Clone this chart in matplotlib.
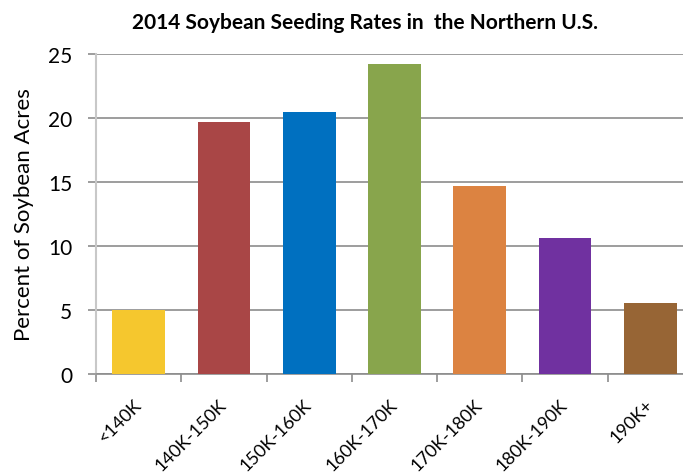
import matplotlib
matplotlib.use("Agg")
import matplotlib.pyplot as plt
import numpy as np

# data
categories = ["<140K", "140K-150K", "150K-160K", "160K-170K", "170K-180K", "180K-190K", "190K+"]
percent = [5.0, 19.7, 20.5, 24.2, 14.7, 10.6, 5.5]
colors = ["#F5C72E", "#A94646", "#0070C0", "#88A54C", "#DC8341", "#7031A0", "#976535"]
yticks = [0, 5, 10, 15, 20, 25]

plt.rcParams["font.family"] = ["Lato", "DejaVu Sans"]

fig = plt.figure(figsize=(6.83, 4.77), dpi=100)
# axes runs a little past the right edge, as in the original
ax = fig.add_axes([0.1406, 0.2145, 0.874, 0.670])

x = np.arange(len(categories))
ax.bar(x, percent, width=0.62, color=colors, zorder=3)

ax.set_xlim(-0.5, len(categories) - 0.5)
ax.set_ylim(0, 25)
ax.set_yticks(yticks)
ax.yaxis.grid(True, color="#8c8c8c", linewidth=1.2, zorder=0)

# category boundaries as tick marks, labels centred under bars
ax.set_xticks(np.arange(len(categories) + 1) - 0.5)
ax.set_xticklabels([])
ax.set_xticks(x, minor=True)
ax.set_xticklabels(categories, minor=True, rotation=45, ha="right", va="center",
                   rotation_mode="anchor", fontsize=13)
ax.tick_params(axis="x", which="minor", length=0, pad=20)
ax.tick_params(axis="x", which="major", length=6, color="#8c8c8c", width=1.2)
ax.tick_params(axis="y", length=6, color="#8c8c8c", width=1.2, labelsize=15, pad=11)

for side in ["top", "right"]:
    ax.spines[side].set_visible(False)
ax.spines["left"].set_color("#c8c8c8")
ax.spines["left"].set_linewidth(1.5)
ax.spines["bottom"].set_color("#8c8c8c")
ax.spines["bottom"].set_linewidth(1.2)

fig.text(24 / 683, 1 - 215 / 477, "Percent of Soybean Acres", rotation=90,
         ha="center", va="center", fontsize=16)
fig.text(365 / 683, 1 - 23 / 477, "2014 Soybean Seeding Rates in  the Northern U.S.",
         ha="center", va="center", fontsize=15, fontweight="bold")

fig.savefig("out.png", dpi=100)
